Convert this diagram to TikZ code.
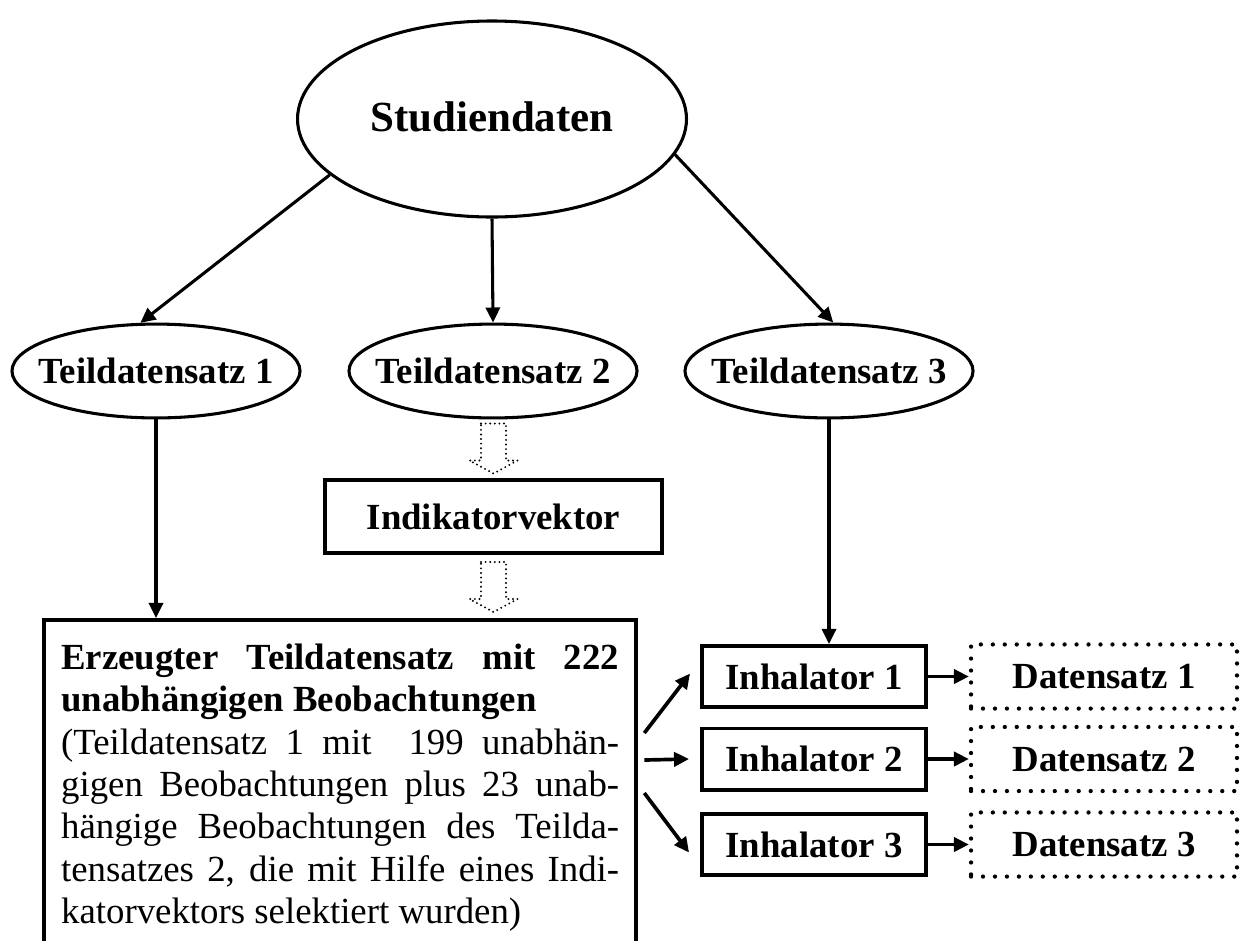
\documentclass[tikz,border=0pt]{standalone}
\usepackage{fontspec}
\setmainfont{Liberation Serif}
\usepackage{tikz}
\usetikzlibrary{arrows.meta}
\usetikzlibrary{shapes,arrows}
\usetikzlibrary{calc}
\newcommand{\ctext}[1]{\makebox[0pt]{#1}}
\newcommand{\bodyfont}{\fontsize{12}{13.8}\selectfont}
% hollow dotted block arrow around a named coordinate
\newcommand{\hollowarrow}[1]{%
  \draw[hollow] ($(#1)+(-12.5,-25)$) -- ++(25,0) -- ++(0,37) -- ++(11.5,0)
    -- ($(#1)+(0,25)$) -- ($(#1)+(-24,12)$) -- ++(11.5,0) -- cycle;}

\begin{document}
\begin{tikzpicture}[x=0.326pt,y=-0.326pt,>={Triangle[length=4.9pt,width=4.6pt]}]
\tikzstyle{ell}=[ellipse,draw,line width=1pt,inner sep=0pt,font=\bodyfont\bfseries]
\tikzstyle{bx}=[rectangle,draw,line width=1.3pt,inner sep=0pt,font=\bodyfont\bfseries]
\tikzstyle{dbx}=[rectangle,draw,line width=1.4pt,dash pattern=on 0pt off 3.9pt,line cap=round,inner sep=0pt,font=\bodyfont\bfseries]
\tikzstyle{hollow}=[line width=0.7pt,dash pattern=on 0pt off 1.5pt,line cap=round,line join=round]
\tikzstyle{big}=[draw,line width=1.3pt,anchor=north west,inner xsep=5.6pt,inner ysep=7.8pt,text width=181.9pt,align=justify,font=\bodyfont]
\tikzstyle{con}=[->,line width=1pt]

\useasboundingbox (0,0) rectangle (1242,940);
\clip (0,0) rectangle (1242,940);

% ellipses
\node[ell,minimum width=126.8pt,minimum height=63.9pt,font=\fontsize{14}{16}\selectfont\bfseries] (stud) at (492,119) {\ctext{\raisebox{1.5pt}{Studiendaten}}};
\node[ell,minimum width=93.9pt,minimum height=30.6pt] (t1) at (156,371) {\ctext{Teildatensatz 1}};
\node[ell,minimum width=93.9pt,minimum height=30.6pt] (t2) at (493,371) {\ctext{Teildatensatz 2}};
\node[ell,minimum width=93.9pt,minimum height=30.6pt] (t3) at (829,371) {\ctext{Teildatensatz 3}};

% Indikatorvektor
\node[bx,minimum width=109.9pt,minimum height=23.8pt] (ind) at (493.5,516.5) {Indikatorvektor};
\coordinate (h1) at (493.5,448.5);
\coordinate (h2) at (493.5,587);
\hollowarrow{h1}
\hollowarrow{h2}

% erzeugter Teildatensatz
\node[big] (erz) at (42,618) {\tolerance=10000\hbadness=10000\hyphenpenalty=10000
{\bfseries Erzeugter Teildatensatz mit 222\linebreak unabh\"angigen Beobachtungen}\\
(Teildatensatz 1 mit \ 199 unabh\"an-\linebreak gigen Beobachtungen plus 23 unab-\linebreak h\"angige Beobachtungen des Teilda-\linebreak tensatzes 2, die mit Hilfe eines Indi-\linebreak katorvektors selektiert wurden)\rule[-20pt]{0pt}{0pt}};

% Inhalatoren und Datensaetze
\node[bx,minimum width=73pt,minimum height=19.9pt] (i1) at (814,676.5) {Inhalator 1};
\node[bx,minimum width=73pt,minimum height=19.9pt] (i2) at (814,759) {Inhalator 2};
\node[bx,minimum width=73pt,minimum height=19.9pt] (i3) at (814,844.5) {Inhalator 3};
\node[dbx,minimum width=86.7pt,minimum height=20.9pt] (d1) at (1104,676.5) {Datensatz 1};
\node[dbx,minimum width=86.7pt,minimum height=20.9pt] (d2) at (1104,759) {Datensatz 2};
\node[dbx,minimum width=86.7pt,minimum height=20.9pt] (d3) at (1104,844.5) {Datensatz 3};

\draw[con] (stud.199) -- (t1.108);
\draw[con] (stud.south) -- (t2.north);
\draw[con] (stud.349) -- (t3.85);
\draw[con] (t1.south) -- (t1.south |- erz.north);
\draw[con] (t3.south) -- (t3.south |- i1.north);

\coordinate (o1) at ($(erz.north east)+(6,115)$);
\coordinate (o2) at ($(erz.north east)+(6,142)$);
\coordinate (o3) at ($(erz.north east)+(6,175)$);
\draw[con,line width=1.2pt] (o1) -- ($(i1.west)+(-10,-3)$);
\draw[con,line width=1.2pt] (o2) -- ($(i2.west)+(-11,0)$);
\draw[con,line width=1.2pt] (o3) -- ($(i3.west)+(-11,8)$);

\draw[con,line width=1.2pt] (i1.east) -- (d1.west);
\draw[con,line width=1.2pt] (i2.east) -- (d2.west);
\draw[con,line width=1.2pt] (i3.east) -- (d3.west);
\end{tikzpicture}
\end{document}
